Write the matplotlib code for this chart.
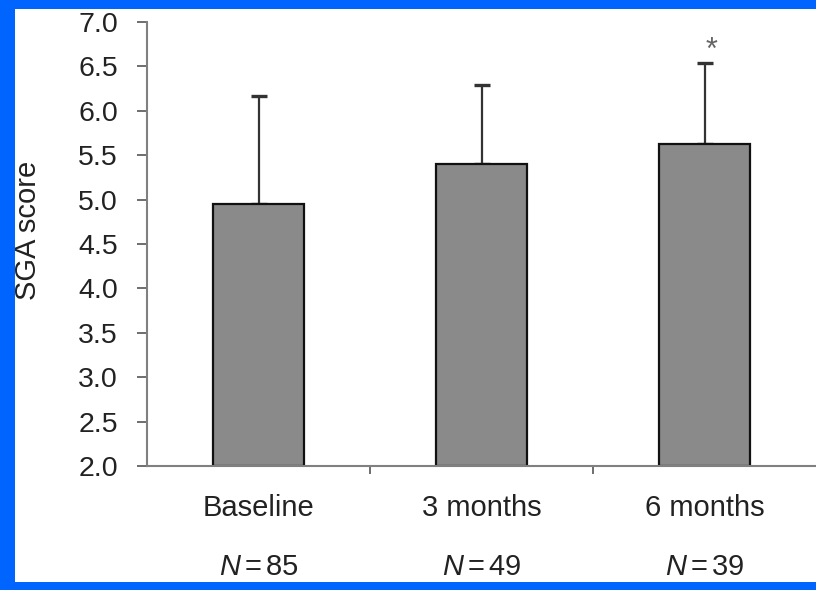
import matplotlib.pyplot as plt
from matplotlib.patches import Rectangle
import matplotlib.transforms as mtransforms

# dados
categories = ["Baseline", "3 months", "6 months"]
n_labels = ["85", "49", "39"]
means = [4.95, 5.40, 5.63]
sd_upper = [1.22, 0.89, 0.91]
star_flags = [False, False, True]

plt.rcParams["font.family"] = ["Liberation Sans", "DejaVu Sans"]
plt.rcParams["mathtext.fontset"] = "custom"
plt.rcParams["mathtext.it"] = "Liberation Sans:italic"
plt.rcParams["mathtext.rm"] = "Liberation Sans"

fig = plt.figure(figsize=(8.16, 5.90), dpi=100)
fig.patch.set_facecolor("white")
ax = fig.add_axes([147 / 816, 124 / 590, 669 / 816, 444 / 590])

x = list(range(len(categories)))
ax.bar(x, [m - 2.0 for m in means], bottom=2.0, width=0.41,
       color="#8a8a8a", edgecolor="#111111", linewidth=1.6, zorder=2)
ax.errorbar(x, means, yerr=[[0] * len(means), sd_upper], fmt="none",
            ecolor="#333333", elinewidth=1.6, capsize=6, capthick=2.4, zorder=1)

for xi, m, s, flag in zip(x, means, sd_upper, star_flags):
    if flag:
        ax.text(xi + 0.03, m + s + 0.13, "*", ha="center", va="center",
                fontsize=22, color="#666666")

ax.set_xlim(-0.5, 2.5)
ax.set_ylim(2.0, 7.0)
ax.set_yticks([2.0 + 0.5 * i for i in range(11)])
ax.set_yticklabels([f"{2.0 + 0.5 * i:.1f}" for i in range(11)], fontsize=20.5, color="#222222")
ax.tick_params(axis="y", length=7, width=1.2, color="#555555", pad=14)

ax.set_xticks([0.5, 1.5])
ax.set_xticklabels([])
ax.tick_params(axis="x", length=6, width=1.2, color="#555555", direction="out")

for s in ["top", "right"]:
    ax.spines[s].set_visible(False)
ax.spines["left"].set_color("#808080")
ax.spines["left"].set_linewidth(1.5)
ax.spines["bottom"].set_color("#808080")
ax.spines["bottom"].set_linewidth(1.5)

fig.text(28 / 816, 1 - 230 / 590, "SGA score", rotation=90, ha="center", va="center",
         fontsize=21, color="#222222")

trans = mtransforms.blended_transform_factory(ax.transData, ax.transAxes)
for xi, cat, n in zip(x, categories, n_labels):
    ax.text(xi, -0.095, cat, transform=trans, ha="center", va="center",
            fontsize=21, color="#222222")
    ax.text(xi, -0.227, f"$N\\,$=$\\,${n}", transform=trans, ha="center", va="center",
            fontsize=21, color="#222222")

# moldura azul
blue = "#0064ff"
fig.patches.append(Rectangle((0, 0), 15 / 816, 1, transform=fig.transFigure,
                             facecolor=blue, edgecolor="none", zorder=10))
fig.patches.append(Rectangle((0, 0), 1, 8 / 590, transform=fig.transFigure,
                             facecolor=blue, edgecolor="none", zorder=10))
fig.patches.append(Rectangle((0, 1 - 9 / 590), 1, 9 / 590, transform=fig.transFigure,
                             facecolor=blue, edgecolor="none", zorder=10))

fig.savefig("out.png", dpi=100)
